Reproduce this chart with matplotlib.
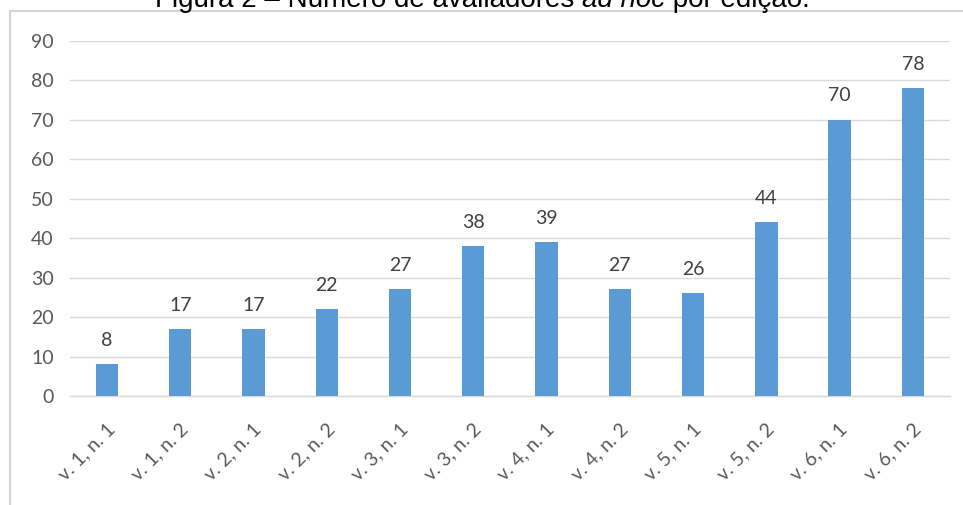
import numpy as np
import matplotlib.pyplot as plt
import matplotlib.transforms as mtransforms
from matplotlib.lines import Line2D

# dados
edicoes = ['v. 1, n. 1', 'v. 1, n. 2', 'v. 2, n. 1', 'v. 2, n. 2', 'v. 3, n. 1', 'v. 3, n. 2',
           'v. 4, n. 1', 'v. 4, n. 2', 'v. 5, n. 1', 'v. 5, n. 2', 'v. 6, n. 1', 'v. 6, n. 2']
avaliadores = [8, 17, 17, 22, 27, 38, 39, 27, 26, 44, 70, 78]
yticks = [0, 10, 20, 30, 40, 50, 60, 70, 80, 90]

plt.rcParams['font.family'] = ['Lato', 'DejaVu Sans']

fig = plt.figure(figsize=(9.63, 5.05), dpi=100)
ax = fig.add_axes([0.0731, 0.2158, 0.9129, 0.7036])

x = np.arange(len(edicoes))
bars = ax.bar(x, avaliadores, width=0.305, color='#5b9bd5', zorder=3)

for xi, v in zip(x, avaliadores):
    ax.annotate(str(v), (xi, v), xytext=(0, 11), textcoords='offset points',
                ha='center', va='bottom', fontsize=14, color='#404040')

ax.set_xlim(-0.5, len(edicoes) - 0.5)
ax.set_ylim(0, 90)
ax.set_yticks(yticks)
ax.set_xticks(x)
ax.set_xticklabels(edicoes, rotation=45, ha='right', va='center', rotation_mode='anchor')
ax.tick_params(axis='both', length=0, labelsize=14, labelcolor='#595959')
ax.tick_params(axis='y', pad=12)
ax.tick_params(axis='x', pad=22)
# desloca um pouco os rotulos para a direita
offset = mtransforms.ScaledTranslation(5/100, 0, fig.dpi_scale_trans)
for lbl in ax.get_xticklabels():
    lbl.set_transform(lbl.get_transform() + offset)
ax.grid(axis='y', color='#d9d9d9', lw=1, zorder=0)
for s in ['top', 'right', 'left']:
    ax.spines[s].set_visible(False)
ax.spines['bottom'].set_color('#d9d9d9')
ax.spines['bottom'].set_linewidth(1)

# moldura da figura
fig.add_artist(Line2D([10/963, 1], [1 - 11/505, 1 - 11/505], color='#d4d4d4', lw=1.5, zorder=0))
fig.add_artist(Line2D([10/963, 10/963], [0, 1 - 11/505], color='#d4d4d4', lw=1.5))

# titulo (cortado no topo)
ty = 1 - 7/505
fs = 20
fig.canvas.draw()
r = fig.canvas.get_renderer()
parts = [('Figura 2 – Número de avaliadores ', 'normal'), ('ad hoc', 'italic'), (' por edição.', 'normal')]
texts = []
for s, st in parts:
    t = fig.text(0, ty, s, fontsize=fs, family='Liberation Sans', style=st, va='baseline', color='black')
    texts.append(t)
widths = [t.get_window_extent(r).width for t in texts]
total = sum(widths)
xpos = 482 - total / 2
for t, w in zip(texts, widths):
    t.set_x(xpos / 963)
    xpos += w

fig.savefig('out.png', dpi=100)
